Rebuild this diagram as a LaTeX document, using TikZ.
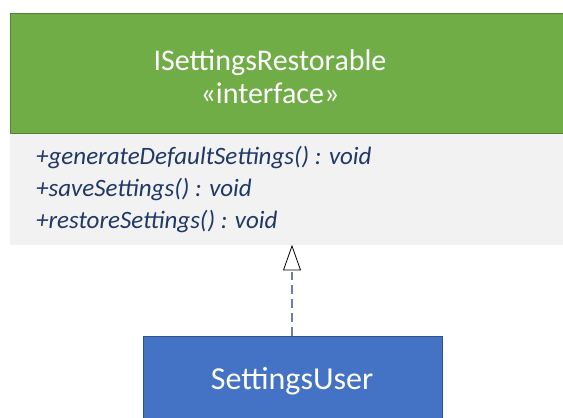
\documentclass[tikz,border=0pt]{standalone}
\usepackage{fontspec}
\setmainfont{Carlito}
\usetikzlibrary{arrows.meta}
\definecolor{ifgreen}{HTML}{70AD47}
\definecolor{ifgreenborder}{HTML}{548235}
\definecolor{methodgray}{HTML}{F2F2F2}
\definecolor{methodtext}{HTML}{203864}
\definecolor{userblue}{HTML}{4472C4}
\definecolor{userblueborder}{HTML}{2F528F}
\definecolor{linkgray}{HTML}{6F7F9F}
\begin{document}
\begin{tikzpicture}[x=1pt,y=1pt,
  titletext/.style={text=white, font=\fontsize{30}{33}\selectfont, align=center},
  methodtext/.style={text=methodtext, font=\fontsize{25}{30}\selectfont\itshape, align=left, anchor=west, inner sep=0pt},
]
\useasboundingbox (0,0) rectangle (563,418);
% interface header
\path[fill=ifgreen, draw=ifgreenborder, line width=0.8pt] (10,418-13) rectangle (575,418-133);
\node[titletext] (ifname) at (270,418-77) {ISettingsRestorable\\«interface»};
% methods compartment
\path[fill=methodgray] (10,418-134) rectangle (575,418-245);
\coordinate (methodsbottom) at (292,418-246);
\node[methodtext] (m1) at (36,418-158) {+generateDefaultSettings() : void};
\node[methodtext] (m2) at (36,418-190) {+saveSettings() : void};
\node[methodtext] (m3) at (36,418-222) {+restoreSettings() : void};
% SettingsUser
\node[fill=userblue, draw=userblueborder, line width=0.8pt, minimum width=299pt, minimum height=100pt, anchor=north west, inner sep=0pt] (userbox) at (143,418-336) {};
\node[text=white, font=\fontsize{32}{36}\selectfont] (username) at (292,418-381) {SettingsUser};
% realization
\draw[linkgray, line width=1.6pt, dash pattern=on 9pt off 5pt] (userbox.north -| methodsbottom) -- (292,418-272);
\draw[black, line width=0.8pt, line join=miter] (methodsbottom) -- (300.5,418-270) -- (283.5,418-270) -- cycle;
\end{tikzpicture}
\end{document}
